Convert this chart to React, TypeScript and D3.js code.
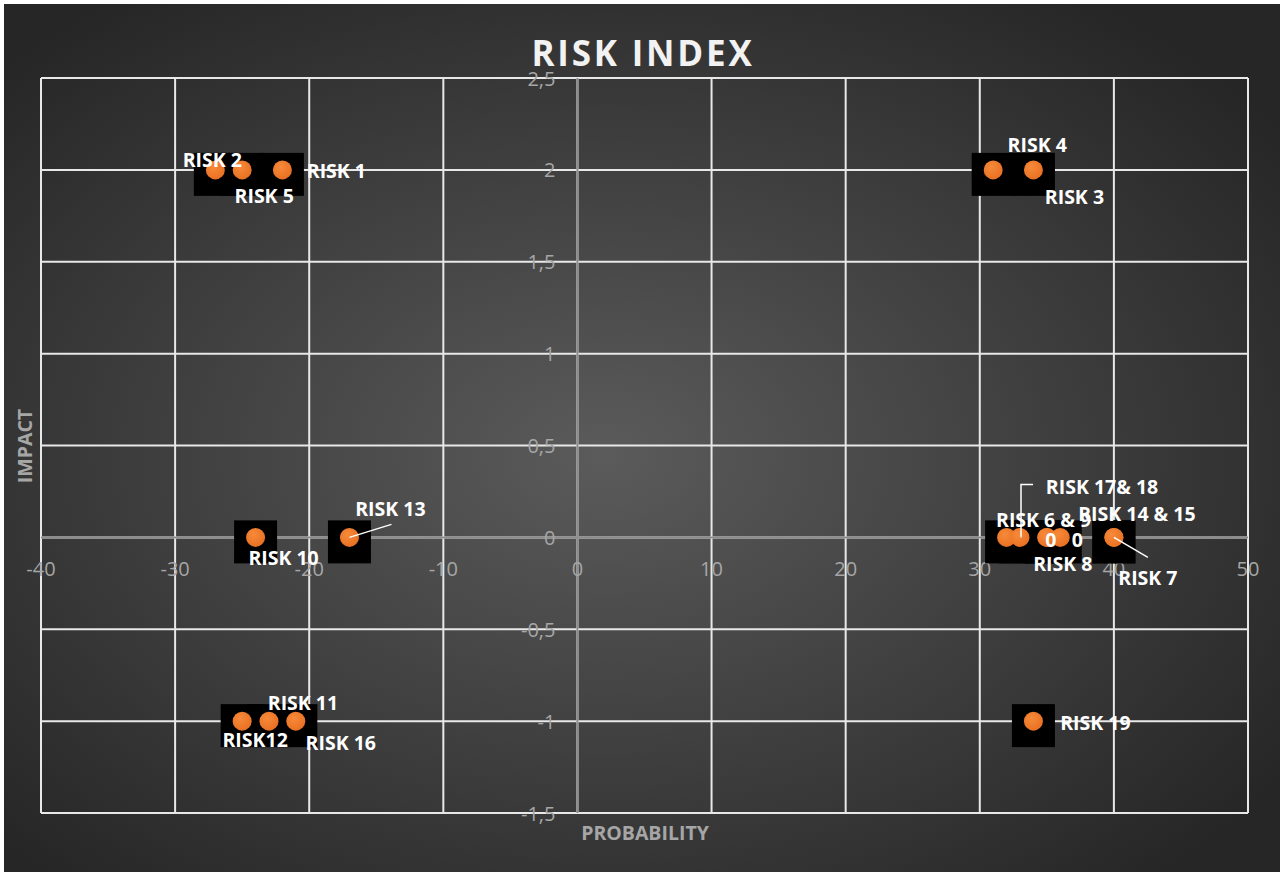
import React from "react";
import * as d3 from "d3";

// ---- data ----
const riskNames = [
  "RISK 2", "RISK 5", "RISK 1", "RISK 4", "RISK 3",
  "RISK 10", "RISK 13",
  "RISK 6 & 9", "RISK 17& 18", "RISK 8", "0", "0", "RISK 14 & 15", "RISK 7",
  "RISK12", "RISK 11", "RISK 16", "RISK 19",
];
const probability = [-27, -25, -22, 31, 34, -24, -17, 32, 33, 35, 35, 36, 40, 40, -25, -23, -21, 34];
const impact = [2, 2, 2, 2, 2, 0, 0, 0, 0, 0, 0, 0, 0, 0, -1, -1, -1, -1];

const xTicks = [-40, -30, -20, -10, 0, 10, 20, 30, 40, 50];
const yTicks = [-1.5, -1, -0.5, 0, 0.5, 1, 1.5, 2, 2.5];

// label placement (pixel offsets from the point), and optional leader lines
const labelDx = [-3, 22, 54, 44, 41, 28, 41, 37, 82, 16, 4, 17, 23, 34, 13, 34, 45, 62];
const labelDy = [-10, 26, 1, -25, 27, 20, -29, -18, -51, 26, 2, 2, -24, 40, 18, -19, 21, 1];
const leaders: (number[][] | null)[] = [
  null, null, null, null, null, null,
  [[0, 0], [42, -13]],
  null,
  [[1, 0], [1, -53], [13, -53]],
  null, null, null, null,
  [[0, 0], [34, 20]],
  null, null, null, null,
];

const W = 1280;
const H = 872;
const margin = { left: 41, right: 1248, top: 78, bottom: 813 };

export default function App() {
  const x = d3.scaleLinear().domain([-40, 50]).range([margin.left, margin.right]);
  const y = d3.scaleLinear().domain([-1.5, 2.5]).range([margin.bottom, margin.top]);
  const fmt = (v: number) => String(v).replace(".", ",");
  const font = "'Open Sans', 'Noto Sans', sans-serif";
  const line = d3.line();

  const pts = probability.map((p, i) => ({ cx: x(p), cy: y(impact[i]), name: riskNames[i], i }));

  return (
    <svg width={W} height={H} style={{ position: "absolute", left: 0, top: 0, display: "block" }}>
      <defs>
        <radialGradient id="bg" cx="47%" cy="52%" r="65%">
          <stop offset="0%" stopColor="#5b5b5b" />
          <stop offset="100%" stopColor="#262626" />
        </radialGradient>
        <radialGradient id="dot" cx="40%" cy="35%" r="70%">
          <stop offset="0%" stopColor="#f78a3a" />
          <stop offset="100%" stopColor="#e86f22" />
        </radialGradient>
      </defs>
      <rect x={0} y={0} width={W} height={H} fill="#ffffff" />
      <rect x={4} y={4} width={W - 4} height={H - 4} fill="url(#bg)" />

      {xTicks.map((t) => (
        <line key={"gx" + t} x1={x(t)} x2={x(t)} y1={y(2.5)} y2={y(-1.5)} stroke="#e8e8e8" strokeWidth={2} />
      ))}
      {yTicks.map((t) => (
        <line key={"gy" + t} x1={x(-40)} x2={x(50)} y1={y(t)} y2={y(t)} stroke="#e8e8e8" strokeWidth={2} />
      ))}
      <line x1={x(0)} x2={x(0)} y1={y(2.5)} y2={y(-1.5)} stroke="#8c8c8c" strokeWidth={2} />
      <line x1={x(-40)} x2={x(50)} y1={y(0)} y2={y(0)} stroke="#8c8c8c" strokeWidth={2} />

      {xTicks.map((t) => (
        <text key={"tx" + t} x={x(t)} y={y(0) + 31} textAnchor="middle" dominantBaseline="central"
          fontFamily={font} fontSize={20} fill="#a6a6a6">{fmt(t)}</text>
      ))}
      {yTicks.map((t) => (
        <text key={"ty" + t} x={x(0) - 22} y={y(t)} textAnchor="end" dominantBaseline="central"
          fontFamily={font} fontSize={20} fill="#a6a6a6">{fmt(t)}</text>
      ))}

      {pts.map((p) => (
        <rect key={"bk" + p.i} x={p.cx - 21.5} y={p.cy - 17} width={43} height={43} fill="#000000" />
      ))}

      {pts.map((p) => (
        <circle key={"pt" + p.i} cx={p.cx} cy={p.cy} r={9.5} fill="url(#dot)" />
      ))}

      {pts.map((p) => {
        const l = leaders[p.i];
        if (!l) return null;
        const d = line(l.map(([a, b]) => [p.cx + a, p.cy + b] as [number, number]));
        return <path key={"ld" + p.i} d={d || ""} fill="none" stroke="#ffffff" strokeWidth={1.5} />;
      })}

      {pts.map((p) => (
        <text key={"lb" + p.i} x={p.cx + labelDx[p.i]} y={p.cy + labelDy[p.i]} textAnchor="middle"
          dominantBaseline="central" fontFamily={font} fontSize={19.5} fontWeight={700} fill="#ffffff">
          {p.name}
        </text>
      ))}

      <text x={643} y={52} textAnchor="middle" dominantBaseline="central" fontFamily={font}
        fontSize={35} fontWeight={700} fill="#f2f2f2" letterSpacing={2.8}>RISK INDEX</text>
      <text x={645} y={832} textAnchor="middle" dominantBaseline="central" fontFamily={font}
        fontSize={19.5} fontWeight={700} fill="#a6a6a6">PROBABILITY</text>
      <text x={0} y={0} transform={`translate(24,446) rotate(-90)`} textAnchor="middle" dominantBaseline="central"
        fontFamily={font} fontSize={19.5} fontWeight={700} fill="#a6a6a6">IMPACT</text>
    </svg>
  );
}
